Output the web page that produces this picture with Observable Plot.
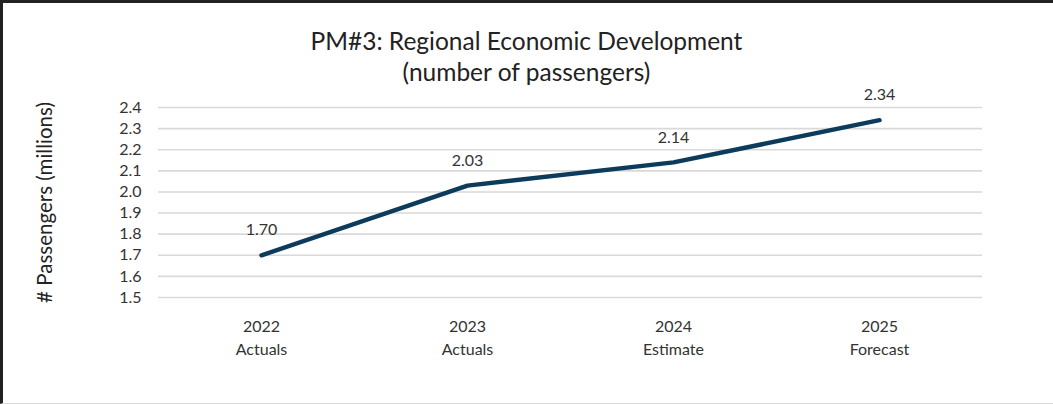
<!DOCTYPE html>
<html>
<head>
<meta charset="utf-8">
<script src="https://cdn.jsdelivr.net/npm/d3@7"></script>
<script src="https://cdn.jsdelivr.net/npm/@observablehq/plot@0.6"></script>
<style>
  html, body { margin: 0; padding: 0; background: #fff; }
  #frame {
    position: relative; width: 1053px; height: 404px; box-sizing: border-box;
    border-left: 3px solid #222; border-top: 3px solid #222; border-bottom: 1px solid #d9d9d9;
    overflow: hidden; font-family: Lato, "Open Sans", sans-serif;
  }
  #title {
    position: absolute; left: -3px; width: 1053px; top: 22px; text-align: center;
    font-size: 24.5px; line-height: 31px; color: #222; z-index: 2;
  }
  #chart { position: absolute; left: -3px; top: 0px; z-index: 1; }
</style>
</head>
<body>
<div id="frame">
  <div id="chart"></div>
  <div id="title">PM#3: Regional Economic Development<br>(number of passengers)</div>
</div>
<script>
const categories = ["2022", "2023", "2024", "2025"];
const categoryTypes = ["Actuals", "Actuals", "Estimate", "Forecast"];
const values = [1.70, 2.03, 2.14, 2.34];
const yTicks = [1.5, 1.6, 1.7, 1.8, 1.9, 2.0, 2.1, 2.2, 2.3, 2.4];
const yLabel = "# Passengers (millions)";

const data = categories.map((c, i) => ({cat: c, type: categoryTypes[i], value: values[i]}));

const chart = Plot.plot({
  width: 1053,
  height: 395,
  marginLeft: 158,
  marginRight: 71,
  marginTop: 104,
  marginBottom: 101,
  style: {fontFamily: "Lato, 'Open Sans', sans-serif", fontSize: "16px", color: "#333", background: "transparent"},
  x: {type: "point", domain: categories, padding: 0.5, label: null},
  y: {domain: [1.5, 2.4], label: null},
  marks: [
    Plot.gridY(yTicks, {stroke: "#d9d9d9", strokeOpacity: 1, strokeWidth: 1.6}),
    Plot.axisY(yTicks, {tickSize: 0, tickPadding: 17, tickFormat: d3.format(".1f"), fill: "#333", label: null}),
    Plot.axisX(categories, {tickSize: 0, tickPadding: 19, lineHeight: 1.4,
      tickFormat: (d, i) => d + "\n" + categoryTypes[categories.indexOf(d)], fill: "#333", label: null}),
    Plot.text([yLabel], {frameAnchor: "left", textAnchor: "middle", rotate: -90, dx: -113, fontSize: 20.5, fill: "#222", text: d => d}),
    Plot.line(data, {x: "cat", y: "value", stroke: "#0d3b5c", strokeWidth: 4.5, strokeLinecap: "round", strokeLinejoin: "round"}),
    Plot.text(data, {x: "cat", y: "value", text: d => d3.format(".2f")(d.value), dy: -25, fill: "#333", fontSize: 16})
  ]
});
document.getElementById("chart").appendChild(chart);
</script>
</body>
</html>
